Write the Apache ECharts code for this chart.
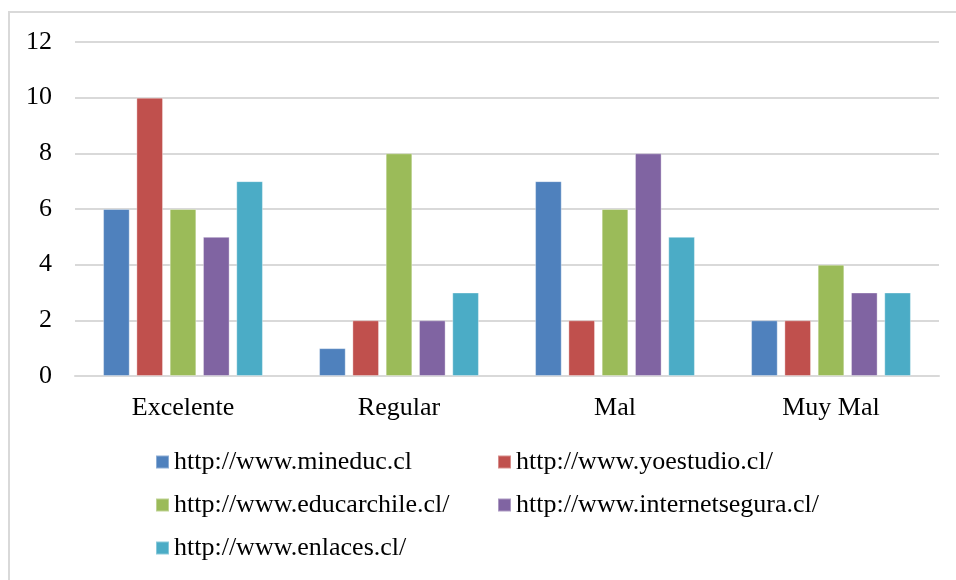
<!DOCTYPE html>
<html><head><meta charset="utf-8">
<script src="https://cdn.jsdelivr.net/npm/echarts@6/dist/echarts.min.js"></script>
<style>html,body{margin:0;padding:0;background:#fff}#c{width:956px;height:580px}</style>
</head><body><div id="c"></div>
<script>
const categories = ['Excelente', 'Regular', 'Mal', 'Muy Mal'];
const seriesNames = ['http://www.mineduc.cl', 'http://www.yoestudio.cl/', 'http://www.educarchile.cl/', 'http://www.internetsegura.cl/', 'http://www.enlaces.cl/'];
const mineduc = [6, 1, 7, 2];
const yoestudio = [10, 2, 2, 2];
const educarchile = [6, 8, 6, 4];
const internetsegura = [5, 2, 8, 3];
const enlaces = [7, 3, 5, 3];
const yTicks = [0, 2, 4, 6, 8, 10, 12];
const colors = ['#4F81BD', '#C0504D', '#9BBB59', '#8064A2', '#4BACC6'];
const values = [mineduc, yoestudio, educarchile, internetsegura, enlaces];

const FONT = 'Liberation Serif';
const FS = 26;
const chart = echarts.init(document.getElementById('c'), null, {renderer: 'canvas'});
const legendText = {fontFamily: FONT, fontSize: FS, color: '#000', lineHeight: 30};
chart.setOption({
  animation: false,
  color: colors,
  graphic: [{type: 'rect', shape: {x: 9, y: 12, width: 1200, height: 1200}, style: {fill: 'none', stroke: '#d9d9d9', lineWidth: 2}, silent: true}],
  grid: {left: 75, right: 17, top: 42, bottom: 204, containLabel: false},
  legend: [
    {orient: 'vertical', left: 155, top: 447, height: 140, padding: 0, itemWidth: 13, itemHeight: 13, itemGap: 13, icon: 'rect', textStyle: legendText,
     data: [seriesNames[0], seriesNames[2], seriesNames[4]]},
    {orient: 'vertical', left: 497, top: 447, height: 140, padding: 0, itemWidth: 13, itemHeight: 13, itemGap: 13, icon: 'rect', textStyle: legendText,
     data: [seriesNames[1], seriesNames[3]]}
  ],
  xAxis: {type: 'category', data: categories,
    axisLine: {lineStyle: {color: '#d9d9d9', width: 2}}, axisTick: {show: false},
    axisLabel: {fontFamily: FONT, fontSize: FS, color: '#000', margin: 19}},
  yAxis: {type: 'value', min: 0, max: 12, interval: 2,
    axisLine: {show: false}, axisTick: {show: false},
    splitLine: {lineStyle: {color: '#d9d9d9', width: 2}},
    axisLabel: {fontFamily: FONT, fontSize: FS, color: '#000', margin: 23,
      formatter: v => yTicks.includes(v) ? String(v) : ''}},
  series: values.map((d, i) => ({
    name: seriesNames[i], type: 'bar', data: d,
    barGap: '25%', barCategoryGap: '26%',
    itemStyle: {color: colors[i], borderColor: 'rgba(255,255,255,0.35)', borderWidth: 1}
  }))
});
</script></body></html>
